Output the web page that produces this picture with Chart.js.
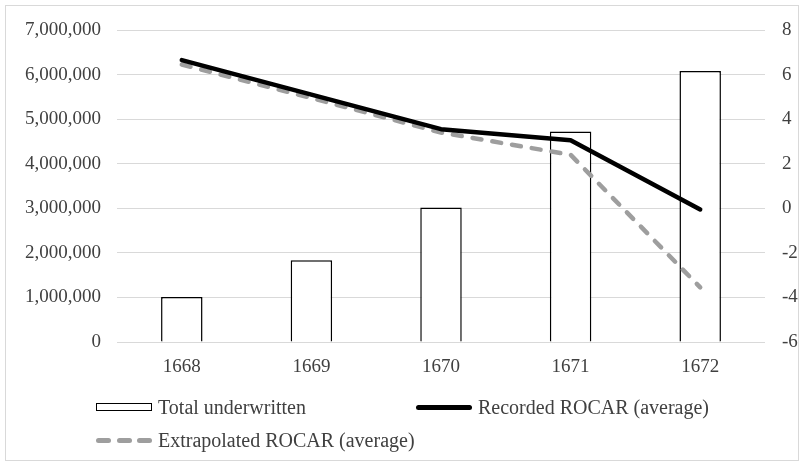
<!DOCTYPE html>
<html>
<head>
<meta charset="utf-8">
<script src="https://cdn.jsdelivr.net/npm/chart.js@4"></script>
<style>
  html, body { margin: 0; padding: 0; background: #fff; }
  #wrap { position: relative; width: 804px; height: 466px; }
  #frame { position: absolute; left: 5px; top: 5px; width: 792px; height: 454px; border: 1px solid #d9d9d9; pointer-events: none; }
  canvas { position: absolute; left: 0; top: 0; }
  .legend-item { position: absolute; display: flex; align-items: center; height: 24px;
    font-family: 'Liberation Serif', 'Times New Roman', serif; font-size: 20px; color: #404040; white-space: nowrap; }
  .legend-item .mark { width: 56px; margin-right: 6px; display: flex; align-items: center; justify-content: space-between; }
</style>
</head>
<body>
<div id="wrap">
  <canvas id="chart" width="804" height="466"></canvas>
  <div id="frame"></div>
  <div id="legend"></div>
</div>
<script>
const years = ['1668', '1669', '1670', '1671', '1672'];
const totalUnderwritten = [1010000, 1835000, 3020000, 4720000, 6080000];
const recordedRocar = [6.65, 5.1, 3.55, 3.05, -0.05];
const extrapolatedRocar = [6.45, 4.95, 3.4, 2.4, -3.55];
const leftTicks = [0, 1000000, 2000000, 3000000, 4000000, 5000000, 6000000, 7000000];
const rightTicks = [-6, -4, -2, 0, 2, 4, 6, 8];

const textColor = '#404040';
const gridColor = '#d9d9d9';
const dashColor = '#9e9e9e';

Chart.defaults.font.family = "'Liberation Serif', 'Times New Roman', serif";
Chart.defaults.font.size = 19;
Chart.defaults.color = textColor;

function useTicks(values) {
    return scale => { scale.ticks = values.map(v => ({ value: v })); };
}

const ctx = document.getElementById('chart').getContext('2d');

const chart = new Chart(ctx, {
    type: 'bar',
    data: {
        labels: years,
        datasets: [
            {
                type: 'line',
                label: 'Recorded ROCAR (average)',
                data: recordedRocar,
                yAxisID: 'y1',
                borderColor: '#000',
                borderWidth: 4.5,
                borderJoinStyle: 'round',
                borderCapStyle: 'round',
                pointRadius: 0,
                tension: 0,
                order: 1
            },
            {
                type: 'line',
                label: 'Extrapolated ROCAR (average)',
                data: extrapolatedRocar,
                yAxisID: 'y1',
                borderColor: dashColor,
                borderWidth: 4.5,
                borderDash: [9, 11],
                borderJoinStyle: 'round',
                borderCapStyle: 'round',
                pointRadius: 0,
                tension: 0,
                order: 2
            },
            {
                label: 'Total underwritten',
                data: totalUnderwritten,
                yAxisID: 'y',
                backgroundColor: '#fff',
                borderColor: '#000',
                borderWidth: 1.5,
                barPercentage: 0.32,
                categoryPercentage: 1,
                order: 3
            }
        ]
    },
    options: {
        responsive: false,
        animation: false,
        layout: { padding: { top: 30, left: 0, right: 0, bottom: 0 } },
        plugins: {
            legend: { display: false },
            tooltip: { enabled: false }
        },
        scales: {
            x: {
                grid: { display: false },
                border: { display: false },
                ticks: { padding: 6, color: textColor },
                afterFit: scale => { scale.height = 124; }
            },
            y: {
                position: 'left',
                min: 0,
                max: 7000000,
                afterBuildTicks: useTicks(leftTicks),
                grid: { color: gridColor, lineWidth: 1, drawTicks: false },
                border: { display: false },
                ticks: {
                    padding: 16,
                    color: textColor,
                    callback: v => v.toLocaleString('en-US')
                },
                afterFit: scale => { scale.width = 117; }
            },
            y1: {
                position: 'right',
                min: -6,
                max: 8,
                afterBuildTicks: useTicks(rightTicks),
                grid: { display: false, drawTicks: false },
                border: { display: false },
                ticks: { padding: 17, color: textColor },
                afterFit: scale => { scale.width = 39; }
            }
        }
    }
});

// legend laid out in two columns below the axis, built from the datasets
const legendSlots = [
    { label: 'Total underwritten', left: 96, top: 395 },
    { label: 'Recorded ROCAR (average)', left: 416, top: 395 },
    { label: 'Extrapolated ROCAR (average)', left: 96, top: 428 }
];
const legendEl = document.getElementById('legend');
legendSlots.forEach(slot => {
    const ds = chart.data.datasets.find(d => d.label === slot.label);
    const item = document.createElement('div');
    item.className = 'legend-item';
    item.style.left = slot.left + 'px';
    item.style.top = slot.top + 'px';
    const mark = document.createElement('span');
    mark.className = 'mark';
    if (ds.type === 'line' && ds.borderDash) {
        for (let i = 0; i < 3; i++) {
            const d = document.createElement('span');
            d.style.cssText = `display:block;width:15px;height:5px;border-radius:3px;background:${ds.borderColor}`;
            mark.appendChild(d);
        }
    } else if (ds.type === 'line') {
        const d = document.createElement('span');
        d.style.cssText = `display:block;width:56px;height:5px;border-radius:3px;background:${ds.borderColor}`;
        mark.appendChild(d);
    } else {
        const d = document.createElement('span');
        d.style.cssText = `display:block;box-sizing:border-box;width:56px;height:8px;border:1.5px solid ${ds.borderColor};background:${ds.backgroundColor}`;
        mark.appendChild(d);
    }
    item.appendChild(mark);
    item.appendChild(document.createTextNode(ds.label));
    legendEl.appendChild(item);
});
</script>
</body>
</html>
